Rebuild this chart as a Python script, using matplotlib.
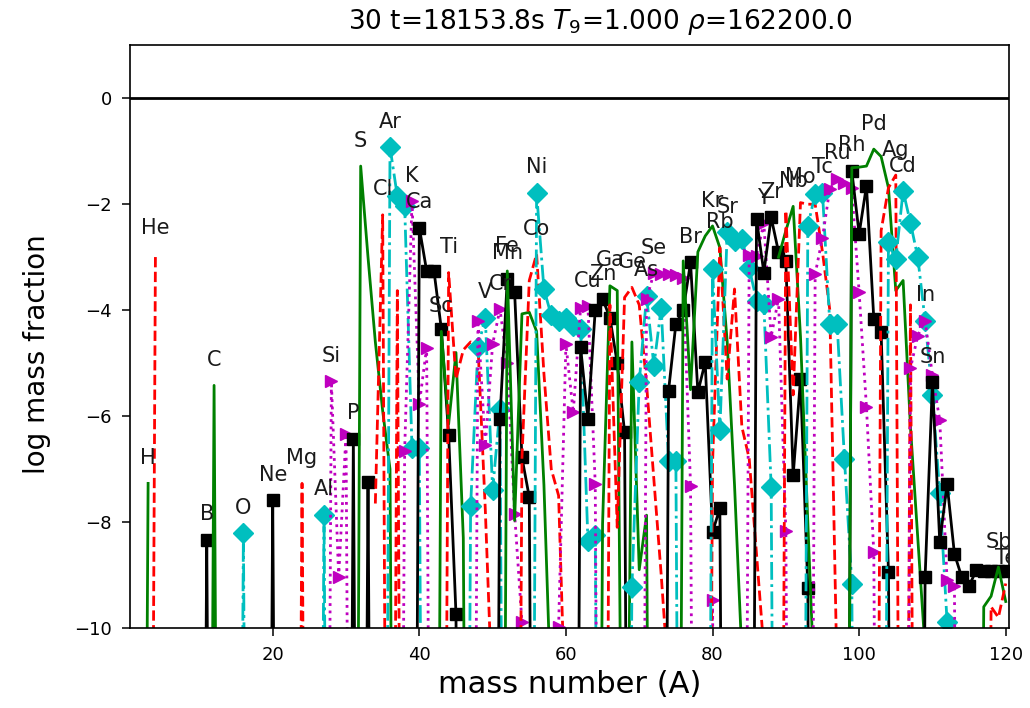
import matplotlib
matplotlib.use("Agg")
import matplotlib.pyplot as plt

# ---- data: mass numbers (A) and log mass fractions per element ----
elements = ['H', 'He', 'B', 'C', 'O', 'Ne', 'Mg', 'Al', 'Si', 'P', 'S', 'Cl', 'Ar', 'K', 'Ca',
            'Sc', 'Ti', 'V', 'Cr', 'Mn', 'Fe', 'Co', 'Ni', 'Cu', 'Zn', 'Ga', 'Ge', 'As', 'Se',
            'Br', 'Kr', 'Rb', 'Sr', 'Y', 'Zr', 'Nb', 'Mo', 'Tc', 'Ru', 'Rh', 'Pd', 'Ag', 'Cd',
            'In', 'Sn', 'Sb', 'Te']
Z = [1, 2, 5, 6, 8, 10, 12, 13, 14, 15, 16, 17, 18, 19, 20,
     21, 22, 23, 24, 25, 26, 27, 28, 29, 30, 31, 32, 33, 34,
     35, 36, 37, 38, 39, 40, 41, 42, 43, 44, 45, 46, 47, 48,
     49, 50, 51, 52]

H_A = [2, 3];              H_X = [-30, -7.27]
He_A = [3, 4];             He_X = [-30, -2.93]
B_A = [10, 11, 12];        B_X = [-30, -8.33, -30]
C_A = [11, 12, 13];        C_X = [-30, -5.42, -30]
O_A = [15, 16, 17];        O_X = [-30, -8.21, -30]
Ne_A = [19, 20, 21];       Ne_X = [-30, -7.59, -30]
Mg_A = [23, 24, 25];       Mg_X = [-30, -7.27, -30]
Al_A = [26, 27, 28];       Al_X = [-30, -7.86, -30]
Si_A = [27, 28, 29, 30, 31]; Si_X = [-30, -5.34, -9.04, -6.33, -30]
P_A = [30, 31, 32, 33, 34]; P_X = [-30, -6.43, -30, -7.25, -30]
S_A = [31, 32, 33, 34, 35, 36, 37]; S_X = [-30, -1.28, -3.0, -4.6, -5.9, -7.0, -30]
Cl_A = [34, 35, 36, 37, 38]; Cl_X = [-7.65, -2.2, -30, -3.63, -30]
Ar_A = [35, 36, 37, 38, 39, 40, 41]; Ar_X = [-30, -0.92, -1.85, -2.03, -6.6, -6.6, -30]
K_A = [37, 38, 39, 40, 41, 42]; K_X = [-30, -6.65, -1.94, -5.77, -4.71, -30]
Ca_A = [39, 40, 41, 42, 43, 44, 45, 46]; Ca_X = [-30, -2.44, -3.26, -3.26, -4.35, -6.35, -9.73, -30]
Sc_A = [42, 43, 44, 45, 46, 47]; Sc_X = [-30, -4.4, -6.15, -4.8, -8.3, -30]
Ti_A = [43, 44, 45, 46, 47, 48, 49, 50, 51]; Ti_X = [-30, -3.29, -5.3, -4.75, -4.6, -4.66, -7.76, -11.5, -30]
V_A = [46, 47, 48, 49, 50, 51, 52]; V_X = [-30, -7.69, -4.70, -4.14, -7.4, -5.86, -30]
Cr_A = [47, 48, 49, 50, 51, 52, 53, 54, 55]; Cr_X = [-30, -4.2, -6.55, -4.64, -3.98, -5.0, -7.84, -9.89, -30]
Mn_A = [50, 51, 52, 53, 54, 55, 56]; Mn_X = [-30, -6.05, -3.41, -3.66, -6.78, -7.53, -30]
Fe_A = [51, 52, 53, 54, 55, 56, 57, 58]; Fe_X = [-30, -3.26, -7.97, -4.07, -4.04, -4.4, -7.3, -11.5]
Co_A = [53, 54, 55, 56, 57, 58, 59, 60]; Co_X = [-30, -6.8, -3.44, -2.94, -5.2, -7.0, -7.5, -12.0]
Ni_A = [55, 56, 57, 58, 59, 60, 61, 62, 63, 64, 65]; Ni_X = [-30, -1.78, -3.6, -4.1, -4.2, -4.15, -4.3, -4.35, -8.35, -8.25, -30]
Cu_A = [59, 60, 61, 62, 63, 64, 65]; Cu_X = [-9.98, -4.64, -5.93, -3.95, -3.92, -7.28, -30]
Zn_A = [61, 62, 63, 64, 65, 66, 67, 68, 69]; Zn_X = [-30, -4.7, -6.05, -4.0, -3.79, -4.14, -5.0, -6.3, -30]
Ga_A = [64, 65, 66, 67, 68, 69, 70, 71, 72]; Ga_X = [-30, -8.03, -3.54, -3.63, -20, -4.6, -8.9, -7.87, -30]
Ge_A = [65, 66, 67, 68, 69, 70, 71, 72, 73, 74]; Ge_X = [-30, -3.9, -8.1, -3.76, -3.57, -3.9, -5.4, -7.2, -9.0, -11.0]
As_A = [68, 69, 70, 71, 72, 73, 74, 75, 76]; As_X = [-30, -9.23, -5.36, -3.73, -5.05, -3.95, -6.84, -6.84, -30]
Se_A = [70, 71, 72, 73, 74, 75, 76, 77, 78, 79, 80, 81]; Se_X = [-30, -3.79, -3.3, -3.32, -3.32, -3.33, -3.4, -7.31, -30, -30, -9.47, -30]
Br_A = [73, 74, 75, 76, 77, 78, 79, 80, 81, 82]; Br_X = [-30, -5.52, -4.26, -4.0, -3.1, -5.55, -4.98, -8.19, -7.74, -30]
Kr_A = [75, 76, 77, 78, 79, 80, 81, 82, 83, 84, 85]; Kr_X = [-30, -3.07, -5.5, -2.9, -2.6, -2.41, -2.82, -4.6, -7.3, -10.5, -30]
Rb_A = [79, 80, 81, 82, 83, 84, 85, 86, 87, 88]; Rb_X = [-30, -6.9, -2.82, -5.3, -3.6, -6.2, -6.8, -8.6, -10.4, -30]
Sr_A = [79, 80, 81, 82, 83, 84, 85, 86, 87, 88, 89]; Sr_X = [-30, -3.22, -6.27, -2.53, -2.69, -2.66, -3.2, -3.82, -3.88, -7.34, -30]
Y_A = [84, 85, 86, 87, 88, 89, 90, 91]; Y_X = [-30, -2.95, -2.97, -2.36, -4.5, -3.78, -8.16, -30]
Zr_A = [85, 86, 87, 88, 89, 90, 91, 92, 93, 94]; Zr_X = [-30, -2.28, -3.29, -2.25, -2.9, -3.07, -7.12, -5.3, -9.25, -30]
Nb_A = [89, 90, 91, 92, 93, 94]; Nb_X = [-3.0, -2.5, -2.04, -4.5, -8.0, -11.5]
Mo_A = [89, 90, 91, 92, 93, 94, 95, 96, 97, 98]; Mo_X = [-30, -2.12, -5.6, -1.97, -2.0, -2.0, -2.9, -4.0, -11.0, -30]
Tc_A = [92, 93, 94, 95, 96, 97, 98, 99, 100]; Tc_X = [-30, -2.41, -1.81, -1.78, -4.26, -4.26, -6.81, -9.16, -30]
Ru_A = [93, 94, 95, 96, 97, 98, 99, 100, 101, 102, 103]; Ru_X = [-30, -3.32, -2.63, -1.71, -1.52, -1.6, -1.7, -3.66, -5.83, -8.57, -30]
Rh_A = [98, 99, 100, 101, 102, 103, 104, 105]; Rh_X = [-30, -1.37, -2.56, -1.65, -4.16, -4.42, -8.94, -30]
Pd_A = [98, 99, 100, 101, 102, 103, 104, 105, 106, 107, 108, 109]; Pd_X = [-30, -1.31, -1.3, -1.28, -0.96, -1.1, -1.69, -3.63, -3.44, -6.2, -8.3, -10.4]
Ag_A = [102, 103, 104, 105, 106, 107, 108]; Ag_X = [-30, -2.5, -1.69, -1.45, -30, -3.9, -30]
Cd_A = [103, 104, 105, 106, 107, 108, 109, 110, 111, 112, 113]; Cd_X = [-30, -2.72, -3.04, -1.75, -2.35, -3.0, -4.2, -5.6, -7.46, -9.89, -30]
In_A = [106, 107, 108, 109, 110, 111, 112, 113, 114]; In_X = [-30, -5.1, -4.48, -4.2, -5.23, -6.08, -9.1, -9.2, -30]
Sn_A = [108, 109, 110, 111, 112, 113, 114, 115, 116, 117, 118, 119, 120]; Sn_X = [-30, -9.04, -5.36, -8.38, -7.28, -8.6, -9.04, -9.2, -8.91, -8.93, -8.93, -8.93, -8.93]
Sb_A = [116, 117, 118, 119, 120]; Sb_X = [-30, -9.6, -9.4, -8.85, -9.5]
Te_A = [117, 118, 119, 120]; Te_X = [-30, -9.6, -9.8, -9.16]

title_text = r'30 t=18153.8s $T_9$=1.000 $\rho$=162200.0'

# ---- styling (cycle by Z mod 5) ----
styles = {0: ('k', '-', 's'), 1: ('g', '-', None), 2: ('r', '--', None),
          3: ('c', '-.', 'D'), 4: ('m', ':', '>')}
msizes = {'s': 9, 'D': 10, '>': 9, None: 0}

g = globals()
series = {el: (g[el + '_A'], g[el + '_X']) for el in elements}

fig = plt.figure(figsize=(10.3, 7.08), dpi=100)
ax = fig.add_axes([0.126, 0.113, 0.854, 0.823])

for el, z in zip(elements, Z):
    A, X = series[el]
    col, ls, mk = styles[z % 5]
    ax.plot(A, X, color=col, linestyle=ls, marker=mk, lw=2, markersize=msizes[mk])
    i = max(range(len(X)), key=lambda k: X[k])
    ax.text(A[i], X[i] + 0.48, el, ha='center', va='center', fontsize=15,
            color='#1a1a1a', clip_on=True)

ax.axhline(0, color='k', lw=2)
ax.set_xlim(0.5, 120.5)
ax.set_ylim(-10, 1)
ax.set_xticks([20, 40, 60, 80, 100, 120])
ax.set_yticks([0, -2, -4, -6, -8, -10])
ax.tick_params(labelsize=13, length=6, pad=7, width=1.1)
for sp in ax.spines.values():
    sp.set_linewidth(1.2)
ax.set_xlabel('mass number (A)', fontsize=22)
ax.set_ylabel('log mass fraction', fontsize=20)
ax.xaxis.set_label_coords(0.5, -0.072)
ax.yaxis.set_label_coords(-0.089, 0.47)
ax.set_title(title_text, fontsize=19, pad=12)
ax.title.set_x(0.535)

fig.savefig('out.png', dpi=100)
